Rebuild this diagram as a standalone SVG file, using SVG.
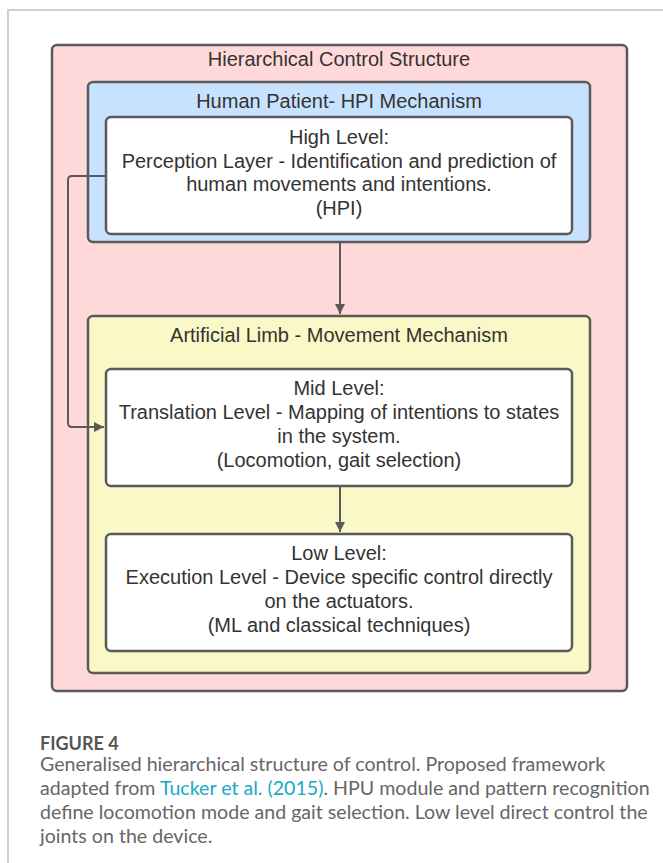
<svg xmlns="http://www.w3.org/2000/svg" width="663" height="863" viewBox="0 0 663 863">
<style>
.box{stroke:#5a5a5a;stroke-width:2.5}
.t{font-family:"Liberation Sans",Arial,sans-serif;font-size:20px;fill:#333;text-anchor:middle}
.c{font-family:Lato,"Open Sans",sans-serif;font-size:19.6px;fill:#666}
.conn{stroke:#5a5a5a;stroke-width:2;fill:none}
</style>
<defs>
<marker id="ah" viewBox="0 0 10 10" refX="10" refY="5" markerWidth="10" markerHeight="10" markerUnits="userSpaceOnUse" orient="auto">
<path d="M0,0 L10,5 L0,10 z" fill="#5a5a5a"/>
</marker>
</defs>
<rect width="663" height="863" fill="#fff"/>
<path d="M8,863 V10 H663" fill="none" stroke="#cfcfcf" stroke-width="2"/>
<g id="outer">
<rect class="box" x="52" y="45" width="575" height="646" rx="5" fill="#ffd9d9"/>
<text class="t" x="339" y="66">Hierarchical Control Structure</text>
</g>
<g id="human">
<rect class="box" x="88" y="82" width="502" height="160" rx="5" fill="#c7e2ff"/>
<text class="t" x="339" y="108">Human Patient- HPI Mechanism</text>
</g>
<g id="high">
<rect class="box" x="106" y="117" width="466" height="117" rx="5" fill="#fff"/>
<text class="t" x="339" y="144">High Level:</text>
<text class="t" x="339" y="168">Perception Layer - Identification and prediction of</text>
<text class="t" x="339" y="191">human movements and intentions.</text>
<text class="t" x="339" y="215">(HPI)</text>
</g>
<g id="limb">
<rect class="box" x="88" y="316" width="502" height="357" rx="5" fill="#faf8c6"/>
<text class="t" x="339" y="342">Artificial Limb - Movement Mechanism</text>
</g>
<g id="mid">
<rect class="box" x="106" y="369" width="466" height="117" rx="5" fill="#fff"/>
<text class="t" x="339" y="395">Mid Level:</text>
<text class="t" x="339" y="419">Translation Level - Mapping of intentions to states</text>
<text class="t" x="339" y="443">in the system.</text>
<text class="t" x="339" y="467">(Locomotion, gait selection)</text>
</g>
<g id="low">
<rect class="box" x="106" y="534" width="466" height="117" rx="5" fill="#fff"/>
<text class="t" x="339" y="560">Low Level:</text>
<text class="t" x="339" y="584">Execution Level - Device specific control directly</text>
<text class="t" x="339" y="608">on the actuators.</text>
<text class="t" x="339" y="632">(ML and classical techniques)</text>
</g>
<g id="connectors">
<path class="conn" d="M340,243 V314" marker-end="url(#ah)"/>
<path class="conn" d="M340,487 V532" marker-end="url(#ah)"/>
<path class="conn" d="M106,176 H72 Q68,176 68,180 V423 Q68,427 72,427 H104" marker-end="url(#ah)"/>
</g>
<g id="caption">
<text x="40" y="750" style="font-family:Lato,sans-serif;font-size:18px;font-weight:bold;fill:#555">FIGURE 4</text>
<text class="c" x="40" y="771">Generalised hierarchical structure of control. Proposed framework</text>
<text class="c" x="40" y="795">adapted from <tspan fill="#1aa8c8">Tucker et al. (2015)</tspan>. HPU module and pattern recognition</text>
<text class="c" x="40" y="819">define locomotion mode and gait selection. Low level direct control the</text>
<text class="c" x="40" y="843">joints on the device.</text>
</g>
</svg>
